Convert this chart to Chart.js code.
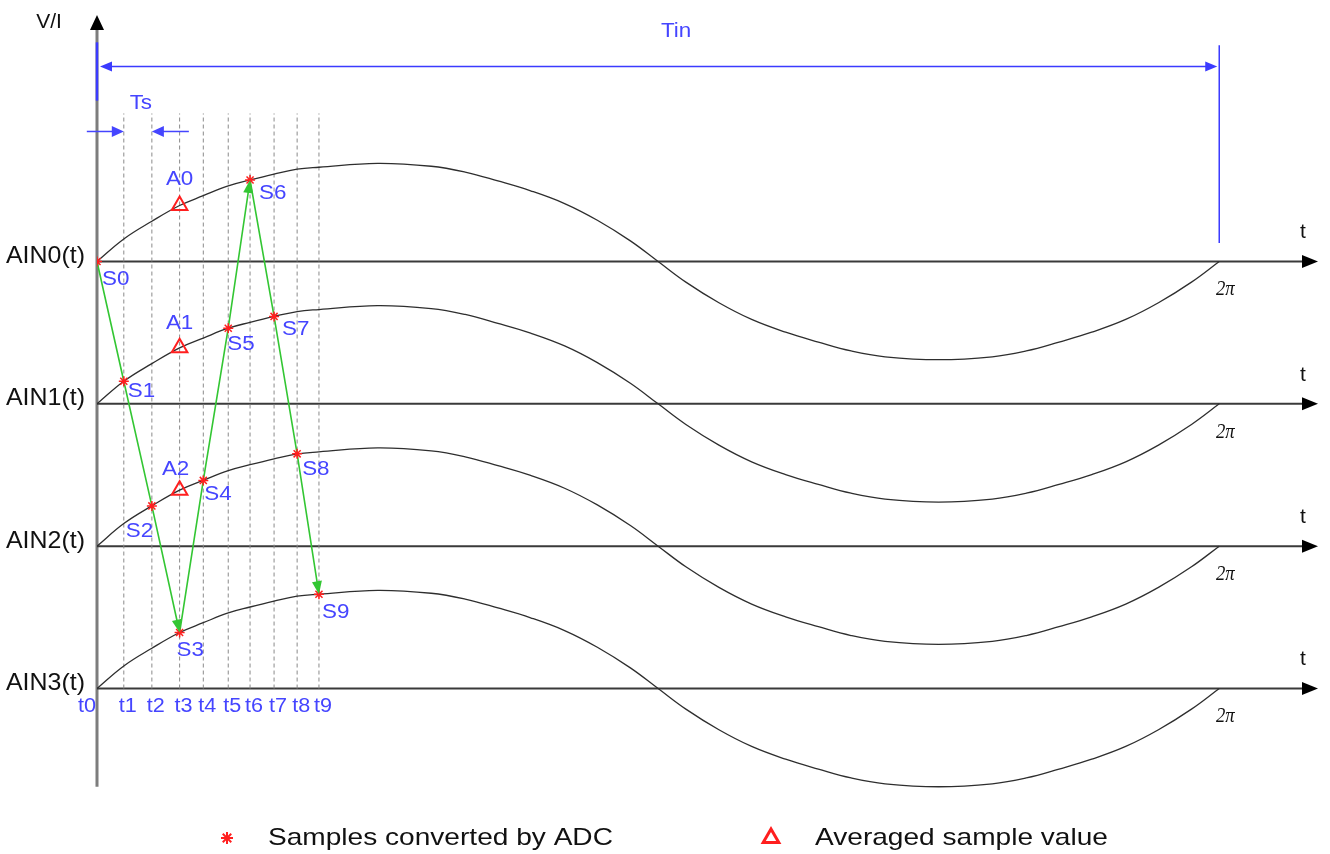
<!DOCTYPE html>
<html>
<head>
<meta charset="utf-8">
<script src="https://cdn.jsdelivr.net/npm/chart.js@4.4.1/dist/chart.umd.min.js"></script>
<style>
  html, body { margin: 0; padding: 0; background: #fff; }
  #wrap { width: 1330px; height: 854px; position: relative; }
</style>
</head>
<body>
<div id="wrap"><canvas id="chart"></canvas></div>
<script>
// phase of each reading, degrees (360 = 2π); first ten are the sample instants t0..t9
const phaseDeg = [0, 8.6, 17.6, 26.5, 34.1, 42.1, 49.1, 56.8, 64.2, 71.2,
  90, 107.2, 118.1, 128.6, 139.1, 150, 160.5, 171.1, 180,
  188.9, 199.5, 210, 220.9, 231.4, 241.9, 252.8, 270,
  287.2, 298.1, 308.6, 319.1, 330, 340.5, 351.1, 360];
// input level at each phase, relative to the peak
const waveLevel = [0, 0.23, 0.41, 0.57, 0.67, 0.77, 0.83, 0.89, 0.94, 0.96,
  1.0, 0.97, 0.91, 0.82, 0.72, 0.59, 0.42, 0.21, 0,
  -0.21, -0.42, -0.59, -0.72, -0.82, -0.91, -0.97, -1.0,
  -0.97, -0.91, -0.82, -0.72, -0.59, -0.42, -0.21, 0];
const channels = ['AIN0(t)', 'AIN1(t)', 'AIN2(t)', 'AIN3(t)'];
const sampleTimes = ['t0', 't1', 't2', 't3', 't4', 't5', 't6', 't7', 't8', 't9'];
const sampleNames = ['S0', 'S1', 'S2', 'S3', 'S4', 'S5', 'S6', 'S7', 'S8', 'S9'];
const sampleChannel = [0, 1, 2, 3, 2, 1, 0, 1, 2, 3];
const averageNames = ['A0', 'A1', 'A2'];
const averageAt = 3;          // averages are marked at t3
const arrowAt = [3, 6, 9];    // green arrow heads land on S3, S6, S9

const AMP = 0.69;             // wave amplitude in row units
const DASH_TOP = 4.04;
const TIN_Y = 4.37;
const BLUE = '#4545ff';
const RED = '#ff1f1f';
const GREEN = '#33c633';
const SANS = "'Liberation Sans', Arial, sans-serif";

const rowOf = c => channels.length - 1 - c;
const samplePts = sampleTimes.map((t, i) => ({ x: phaseDeg[i], y: rowOf(sampleChannel[i]) + AMP * waveLevel[i] }));
const averagePts = averageNames.map((n, k) => ({ x: phaseDeg[averageAt], y: rowOf(k) + AMP * waveLevel[averageAt] }));

function say(ctx, text, x, y, font, color, align, stretch) {
    ctx.save();
    ctx.font = font;
    ctx.fillStyle = color;
    ctx.textAlign = align || 'center';
    ctx.textBaseline = 'middle';
    ctx.translate(x, y);
    ctx.scale(stretch || 1, 1);
    ctx.fillText(text, 0, 0);
    ctx.restore();
}

function arrowHead(ctx, tipX, tipY, fromX, fromY, len, half, color) {
    const a = Math.atan2(tipY - fromY, tipX - fromX);
    ctx.save();
    ctx.fillStyle = color;
    ctx.translate(tipX, tipY);
    ctx.rotate(a);
    ctx.beginPath();
    ctx.moveTo(0, 0);
    ctx.lineTo(-len, -half);
    ctx.lineTo(-len, half);
    ctx.closePath();
    ctx.fill();
    ctx.restore();
}

function line(ctx, x1, y1, x2, y2, color, width) {
    ctx.save();
    ctx.strokeStyle = color;
    ctx.lineWidth = width;
    ctx.beginPath();
    ctx.moveTo(x1, y1);
    ctx.lineTo(x2, y2);
    ctx.stroke();
    ctx.restore();
}

const axesPlugin = {
    id: 'axes',
    beforeDatasetsDraw(chart) {
        const ctx = chart.ctx, xs = chart.scales.x, ys = chart.scales.y, area = chart.chartArea;
        const x0 = xs.getPixelForValue(0);
        // vertical V/I axis
        line(ctx, x0, ys.getPixelForValue(-0.69), x0, area.top + 16, '#7d7d7d', 3);
        arrowHead(ctx, x0, area.top + 4, x0, area.top + 30, 15, 7, '#000');
        // one time axis per channel
        channels.forEach((name, c) => {
            const y = ys.getPixelForValue(rowOf(c));
            line(ctx, x0, y, area.right - 14, y, '#3a3a3a', 2);
            arrowHead(ctx, area.right - 1, y, x0, y, 16, 6.5, '#000');
        });
    },
    afterDatasetsDraw(chart) {
        const ctx = chart.ctx, xs = chart.scales.x, ys = chart.scales.y, area = chart.chartArea;
        const px = v => xs.getPixelForValue(v), py = v => ys.getPixelForValue(v);
        const x0 = px(0), x2pi = px(360);

        // green arrow heads on the conversion order
        arrowAt.forEach(i => {
            const a = samplePts[i - 1], b = samplePts[i];
            arrowHead(ctx, px(b.x), py(b.y), px(a.x), py(a.y), 13, 5, GREEN);
        });

        say(ctx, 'V/I', x0 - 48, area.top + 11, '20px ' + SANS, '#111', 'center', 1.05);

        channels.forEach((name, c) => {
            const y = py(rowOf(c));
            say(ctx, name, x0 - 12, y - 5, '24px ' + SANS, '#111', 'right', 1.04);
            say(ctx, 't', area.right - 16, y - 29, '21px ' + SANS, '#111', 'center');
            say(ctx, '2\u03c0', x2pi + 6, y + 28, "italic 22px 'Liberation Serif', serif", '#111', 'center', 0.85);
        });

        // sample point labels: [dx to left edge, dy to centre]
        const off = [[5, 18], [4, 10], [-26, 26], [-3, 18], [1, 14], [-1, 16], [9, 13], [8, 13], [5, 16], [3, 18]];
        samplePts.forEach((p, i) => {
            say(ctx, sampleNames[i], px(p.x) + off[i][0], py(p.y) + off[i][1], '20px ' + SANS, BLUE, 'left', 1.12);
        });
        const aoff = [[0, -26], [0, -24], [-4, -21]];
        averagePts.forEach((p, k) => {
            say(ctx, averageNames[k], px(p.x) + aoff[k][0], py(p.y) + aoff[k][1], '20px ' + SANS, BLUE, 'center', 1.12);
        });
        sampleTimes.forEach((t, i) => {
            const x = i === 0 ? x0 - 10 : px(phaseDeg[i]) + 4;
            say(ctx, t, x, py(0) + 18, '20px ' + SANS, BLUE, 'center', 1.08);
        });

        // Ts: one sampling period
        const t1 = px(phaseDeg[1]), t2 = px(phaseDeg[2]);
        const tsY = py(DASH_TOP) + 18;
        line(ctx, t1 - 37, tsY, t1 - 10, tsY, BLUE, 1.5);
        arrowHead(ctx, t1, tsY, t1 - 37, tsY, 12, 5.5, BLUE);
        line(ctx, t2 + 37, tsY, t2 + 10, tsY, BLUE, 1.5);
        arrowHead(ctx, t2, tsY, t2 + 37, tsY, 12, 5.5, BLUE);
        say(ctx, 'Ts', (t1 + t2) / 2 + 3, tsY - 28, '20px ' + SANS, BLUE, 'center', 1.12);

        // Tin: one input period
        const tinY = py(TIN_Y);
        line(ctx, x0, py(4.54), x0, py(4.13), '#3b3bff', 2.5);
        line(ctx, x2pi, py(4.52), x2pi, py(3.13), '#3b3bff', 1.5);
        line(ctx, x0 + 10, tinY, x2pi - 10, tinY, '#3b3bff', 1.5);
        arrowHead(ctx, x0 + 3, tinY, x2pi, tinY, 12, 5, '#3b3bff');
        arrowHead(ctx, x2pi - 2, tinY, x0, tinY, 12, 5, '#3b3bff');
        say(ctx, 'Tin', (x0 + x2pi) / 2 + 18, tinY - 35, '20px ' + SANS, BLUE, 'center', 1.12);

        // legend
        const ly = area.bottom + 47;
        ctx.save();
        ctx.strokeStyle = RED;
        ctx.fillStyle = RED;
        ctx.lineWidth = 2;
        Chart.helpers.drawPoint(ctx, { pointStyle: 'star', radius: 6, borderWidth: 2 }, 227, ly);
        ctx.restore();
        say(ctx, 'Samples converted by ADC', 268, ly, '24px ' + SANS, '#111', 'left', 1.17);
        ctx.save();
        ctx.strokeStyle = RED;
        ctx.fillStyle = 'rgba(0,0,0,0)';
        ctx.lineWidth = 3;
        Chart.helpers.drawPoint(ctx, { pointStyle: 'triangle', radius: 9, borderWidth: 3 }, 771, ly);
        ctx.restore();
        say(ctx, 'Averaged sample value', 815, ly, '24px ' + SANS, '#111', 'left', 1.17);
    }
};

const datasets = [
    {
        label: 'Samples converted by ADC', data: samplePts, order: 0,
        pointStyle: 'star', pointRadius: 5, borderColor: RED, backgroundColor: RED, borderWidth: 1.5, showLine: false
    },
    {
        label: 'Averaged sample value', data: averagePts, order: 0,
        pointStyle: 'triangle', pointRadius: 9, borderColor: RED, backgroundColor: 'rgba(0,0,0,0)', borderWidth: 2, showLine: false
    },
    {
        label: 'conversion order', data: samplePts, order: 1,
        showLine: true, borderColor: GREEN, borderWidth: 1.6, pointRadius: 0, tension: 0
    },
    ...channels.map((name, c) => ({
        label: name, order: 2,
        data: phaseDeg.map((x, i) => ({ x, y: rowOf(c) + AMP * waveLevel[i] })),
        showLine: true, borderColor: '#2e2e2e', borderWidth: 1.3, pointRadius: 0, tension: 0.4
    })),
    ...sampleTimes.slice(1).map((t, k) => ({
        label: t, order: 3,
        data: [{ x: phaseDeg[k + 1], y: 0 }, { x: phaseDeg[k + 1], y: DASH_TOP }],
        showLine: true, borderColor: '#8a8a8a', borderWidth: 1, borderDash: [4, 3], pointRadius: 0
    }))
];

new Chart(document.getElementById('chart'), {
    type: 'scatter',
    data: { datasets },
    options: {
        responsive: true,
        maintainAspectRatio: false,
        animation: false,
        events: [],
        layout: { padding: { left: 97, right: 5, top: 7, bottom: 63 } },
        scales: {
            x: { type: 'linear', min: 0, max: 392, display: false },
            y: { type: 'linear', min: -0.72, max: 4.76, display: false }
        },
        plugins: { legend: { display: false }, tooltip: { enabled: false } }
    },
    plugins: [axesPlugin]
});
</script>
</body>
</html>
